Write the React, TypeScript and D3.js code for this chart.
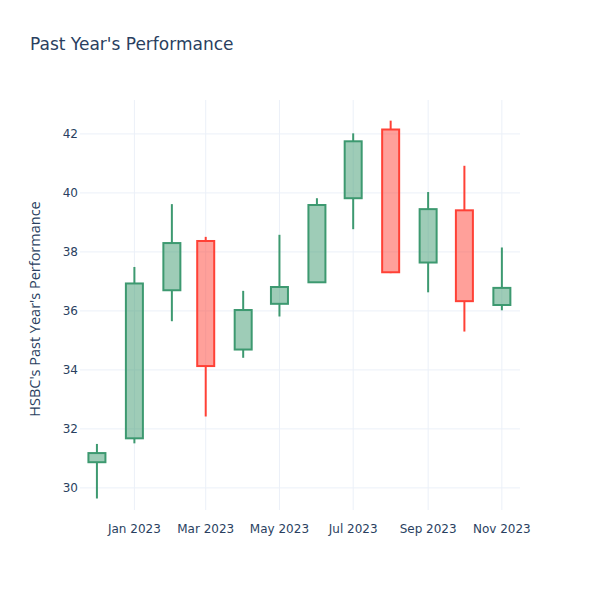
import React from "react";
import * as d3 from "d3";

const dates = ["2022-12-01","2023-01-01","2023-02-01","2023-03-01","2023-04-01","2023-05-01","2023-06-01","2023-07-01","2023-08-01","2023-09-01","2023-10-01","2023-11-01"];
const opens = [30.87, 31.68, 36.70, 38.37, 34.69, 36.24, 36.97, 39.82, 42.15, 37.64, 39.41, 36.20];
const highs = [31.49, 37.49, 39.62, 38.51, 36.68, 38.58, 39.82, 42.02, 42.45, 40.03, 40.92, 38.15];
const lows = [29.64, 31.51, 35.65, 32.42, 34.41, 35.81, 36.95, 38.77, 37.28, 36.63, 35.30, 36.02];
const closes = [31.18, 36.93, 38.30, 34.13, 36.03, 36.81, 39.59, 41.75, 37.31, 39.45, 36.33, 36.78];
const yTicks = [30, 32, 34, 36, 38, 40, 42];
const xTickDates = ["2023-01-01","2023-03-01","2023-05-01","2023-07-01","2023-09-01","2023-11-01"];
const xTickLabels = ["Jan 2023","Mar 2023","May 2023","Jul 2023","Sep 2023","Nov 2023"];

const W = 600, H = 600;
const left = 80, right = 520, top = 100, bottom = 510;
const font = "'Open Sans', verdana, arial, sans-serif";
const tickFont = "'DejaVu Sans', sans-serif";
const textColor = "#2a3f5f";
const grid = "#EBF0F8";

export default function App() {
  const parse = d3.utcParse("%Y-%m-%d");
  const x = d3.scaleUtc()
    .domain([parse("2022-11-17")!, parse("2023-11-16")!])
    .range([left, right]);
  const y = d3.scaleLinear().domain([29.25, 43.15]).range([bottom, top]);
  const bw = 17;

  return (
    <div style={{ position: "absolute", left: 0, top: 0 }}>
      <svg width={W} height={H} style={{ display: "block", background: "#fff" }}>
        <rect x={0} y={0} width={W} height={H} fill="#fff" />
        {xTickDates.map((d, i) => (
          <line key={"xg" + i} x1={x(parse(d)!)} x2={x(parse(d)!)} y1={top} y2={bottom} stroke={grid} strokeWidth={1} />
        ))}
        {yTicks.map((t) => (
          <line key={"yg" + t} x1={left} x2={right} y1={y(t)} y2={y(t)} stroke={grid} strokeWidth={1} />
        ))}
        {dates.map((d, i) => {
          const cx = x(parse(d)!);
          const up = closes[i] >= opens[i];
          const line = up ? "#3D9970" : "#FF4136";
          const fill = up ? "rgba(61,153,112,0.5)" : "rgba(255,65,54,0.5)";
          const yTop = y(Math.max(opens[i], closes[i]));
          const yBot = y(Math.min(opens[i], closes[i]));
          return (
            <g key={"c" + i}>
              <line x1={cx} x2={cx} y1={y(highs[i])} y2={yTop} stroke={line} strokeWidth={2} />
              <line x1={cx} x2={cx} y1={yBot} y2={y(lows[i])} stroke={line} strokeWidth={2} />
              <rect x={cx - bw / 2} y={yTop} width={bw} height={Math.max(yBot - yTop, 0.5)} fill={fill} stroke={line} strokeWidth={2} />
            </g>
          );
        })}
        {yTicks.map((t) => (
          <text key={"yt" + t} x={left - 2} y={y(t)} dy="0.36em" textAnchor="end" fontFamily={tickFont} fontSize={12} fill={textColor}>{t}</text>
        ))}
        {xTickDates.map((d, i) => (
          <text key={"xt" + i} x={x(parse(d)!)} y={bottom + 23} textAnchor="middle" fontFamily={tickFont} fontSize={12} fill={textColor}>{xTickLabels[i]}</text>
        ))}
        <text x={30} y={50} fontFamily={tickFont} fontSize={17} fill={textColor}>Past Year's Performance</text>
        <text transform={`translate(40,${(top + bottom) / 2 + 4}) rotate(-90)`} textAnchor="middle" fontFamily={font} fontSize={14.5} fill={textColor}>HSBC's Past Year's Performance</text>
      </svg>
    </div>
  );
}
